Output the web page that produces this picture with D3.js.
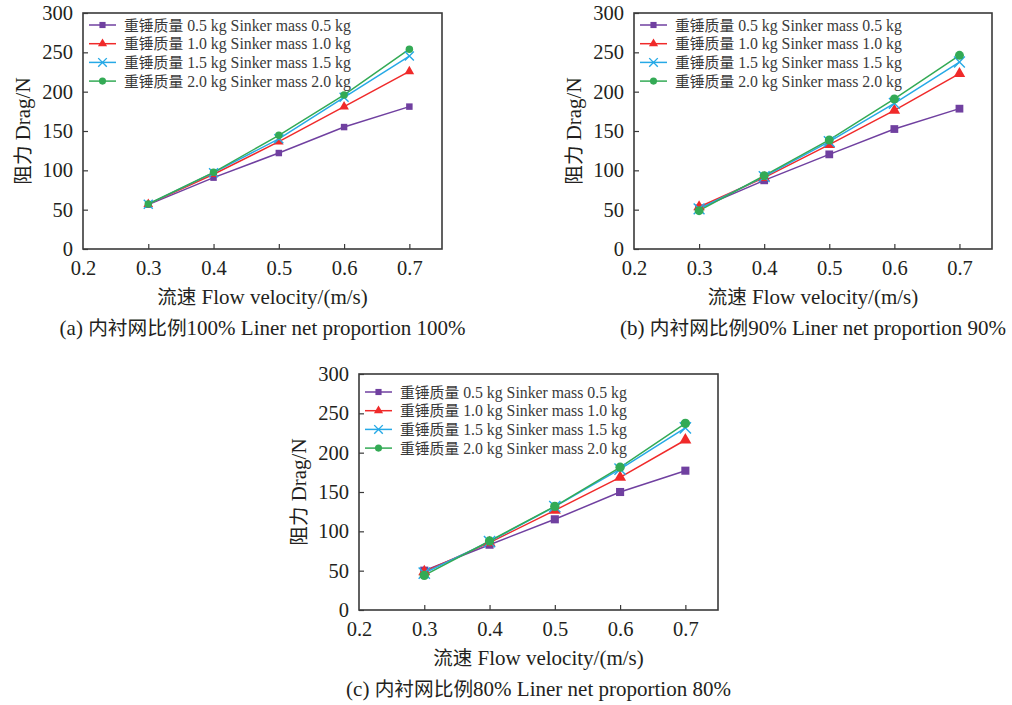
<!DOCTYPE html>
<html>
<head>
<meta charset="utf-8">
<script src="https://cdn.jsdelivr.net/npm/d3@7"></script>
<style>
  html, body { margin: 0; padding: 0; background: #fff; }
  svg { display: block; }
  text { font-family: "Liberation Serif", "Times New Roman", "Noto Sans CJK SC", serif; fill: #231f20; }
</style>
</head>
<body>
<svg id="chart" width="1012" height="705"></svg>
<script>
// Flow velocity (m/s) at which drag was measured
const velocity = [0.3, 0.4, 0.5, 0.6, 0.7];
const xTicks = [0.2, 0.3, 0.4, 0.5, 0.6, 0.7];
const yTicks = [0, 50, 100, 150, 200, 250, 300];

// Legend entries, one per sinker mass
const seriesNames = [
  "重锤质量 0.5 kg Sinker mass 0.5 kg",
  "重锤质量 1.0 kg Sinker mass 1.0 kg",
  "重锤质量 1.5 kg Sinker mass 1.5 kg",
  "重锤质量 2.0 kg Sinker mass 2.0 kg"
];
const seriesColors = ["#7040a0", "#f02a2a", "#26a9e6", "#33aa55"];
const seriesSymbols = ["square", "triangle", "cross", "circle"];

// Drag (N), liner net proportion 100%
const dragA05 = [56.4, 90.7, 122, 155, 181];
const dragA10 = [57, 95, 136.4, 181, 225.8];
const dragA15 = [57, 97, 140, 192.8, 245.3];
const dragA20 = [57.2, 97.5, 144.5, 195.8, 254];

// Drag (N), liner net proportion 90%
const dragB05 = [51.7, 87.3, 120.3, 152.5, 178.4];
const dragB10 = [53.4, 90.7, 132.6, 176.3, 222.9];
const dragB15 = [51, 92, 136.4, 185, 237.7];
const dragB20 = [48.7, 93.2, 138.6, 190.7, 246.2];

// Drag (N), liner net proportion 80%
const dragC05 = [50, 83, 115.3, 150, 177.1];
const dragC10 = [48.7, 85.6, 126.7, 168.6, 216.1];
const dragC15 = [47, 87, 131.4, 179.2, 231.4];
const dragC20 = [44, 87.7, 131.8, 181.4, 237.3];

const captions = [
  "(a) 内衬网比例100% Liner net proportion 100%",
  "(b) 内衬网比例90% Liner net proportion 90%",
  "(c) 内衬网比例80% Liner net proportion 80%"
];
const xTitle = "流速 Flow velocity/(m/s)";
const yTitle = "阻力 Drag/N";

const panels = [
  { left: 83,  top: 13,  right: 442, bottom: 249, legendTop: 12, mk: 1.0,
    series: [dragA05, dragA10, dragA15, dragA20], caption: captions[0] },
  { left: 634, top: 13,  right: 992, bottom: 249, legendTop: 12, mk: 1.2,
    series: [dragB05, dragB10, dragB15, dragB20], caption: captions[1] },
  { left: 359, top: 374, right: 718, bottom: 610, legendTop: 18, mk: 1.25,
    series: [dragC05, dragC10, dragC15, dragC20], caption: captions[2] }
];

const svg = d3.select("#chart");
const axisColor = "#3a3a3a";

// Writes mixed Chinese/Latin text, setting Han characters slightly smaller
function mixedText(sel, str, size, hanSize) {
  const runs = str.match(/[\u3400-\u9fff]+|[^\u3400-\u9fff]+/g) || [];
  sel.attr("font-size", size);
  runs.forEach(r => {
    const t = sel.append("tspan").text(r);
    if (/[\u3400-\u9fff]/.test(r)) t.attr("font-size", hanSize);
  });
  return sel;
}

// Draws one marker of the given kind centred at the origin of g
function drawMarker(g, kind, color, scale) {
  if (kind === "cross") {
    const s = 4.5 * scale;
    g.append("path")
      .attr("d", `M${-s},${-s}L${s},${s}M${-s},${s}L${s},${-s}`)
      .attr("stroke", color).attr("stroke-width", 1.4).attr("fill", "none");
    return;
  }
  const sizes = { square: 42, triangle: 40, circle: 44 };
  const types = { square: d3.symbolSquare, triangle: d3.symbolTriangle, circle: d3.symbolCircle };
  g.append("path")
    .attr("d", d3.symbol().type(types[kind]).size(sizes[kind] * scale * scale)())
    .attr("fill", color);
}

panels.forEach(p => {
  const g = svg.append("g");
  const x = d3.scaleLinear().domain([0.2, 0.75]).range([p.left, p.right]);
  const y = d3.scaleLinear().domain([0, 300]).range([p.bottom, p.top]);

  // x axis: inward ticks, labels below
  const xAxis = g.append("g").attr("transform", `translate(0,${p.bottom})`)
    .call(d3.axisBottom(x).tickValues(xTicks).tickFormat(d3.format(".1f"))
      .tickSizeInner(-5).tickSizeOuter(0).tickPadding(11));
  xAxis.select(".domain").remove();
  xAxis.selectAll(".tick line").attr("stroke", axisColor).attr("stroke-width", 1.2)
    .filter(d => d === 0.2).remove();
  xAxis.selectAll(".tick text").attr("font-size", 20.5).attr("dy", "0.71em")
    .attr("font-family", null);

  // y axis: inward ticks, labels to the left
  const yAxis = g.append("g").attr("transform", `translate(${p.left},0)`)
    .call(d3.axisLeft(y).tickValues(yTicks).tickSizeInner(-5).tickSizeOuter(0).tickPadding(10));
  yAxis.select(".domain").remove();
  yAxis.selectAll(".tick line").attr("stroke", axisColor).attr("stroke-width", 1.2);
  yAxis.selectAll(".tick text").attr("font-size", 20.5);
  g.selectAll(".tick text").attr("font-family", null);
  g.selectAll("g").attr("font-family", null).attr("font-size", null);

  // plot frame
  g.append("rect")
    .attr("x", p.left).attr("y", p.top)
    .attr("width", p.right - p.left).attr("height", p.bottom - p.top)
    .attr("fill", "none").attr("stroke", axisColor).attr("stroke-width", 1.6);

  // series lines and markers
  const line = d3.line().x((d, i) => x(velocity[i])).y(d => y(d));
  p.series.forEach((vals, si) => {
    g.append("path").datum(vals)
      .attr("d", line).attr("fill", "none")
      .attr("stroke", seriesColors[si]).attr("stroke-width", 1.5);
  });
  p.series.forEach((vals, si) => {
    vals.forEach((v, i) => {
      const m = g.append("g").attr("transform", `translate(${x(velocity[i])},${y(v)})`);
      drawMarker(m, seriesSymbols[si], seriesColors[si], p.mk);
    });
  });

  // legend
  const lg = g.append("g").attr("transform", `translate(${p.left + 6},${p.top + p.legendTop})`);
  seriesNames.forEach((name, si) => {
    const row = lg.append("g").attr("transform", `translate(0,${si * 18.7})`);
    row.append("line").attr("x1", 0).attr("x2", 27).attr("y1", 0).attr("y2", 0)
      .attr("stroke", seriesColors[si]).attr("stroke-width", 1.5);
    const m = row.append("g").attr("transform", "translate(13.5,0)");
    drawMarker(m, seriesSymbols[si], seriesColors[si], 0.95);
    const t = row.append("text").attr("x", 35).attr("y", 0).attr("dy", "0.35em")
      .style("fill", "#3a3a3a");
    mixedText(t, name, 15.8, 14.8);
  });

  // axis titles and caption
  const cx = (p.left + p.right) / 2;
  mixedText(g.append("text").attr("x", cx).attr("y", p.bottom + 48).attr("dy", "0.35em")
    .attr("text-anchor", "middle"), xTitle, 21, 19.5);
  mixedText(g.append("text")
    .attr("transform", `translate(${p.left - 60},${(p.top + p.bottom) / 2}) rotate(-90)`)
    .attr("dy", "0.35em").attr("text-anchor", "middle"), yTitle, 21, 19.5);
  mixedText(g.append("text").attr("x", cx).attr("y", p.bottom + 79).attr("dy", "0.35em")
    .attr("text-anchor", "middle"), p.caption, 21, 19.7);
});
</script>
</body>
</html>
